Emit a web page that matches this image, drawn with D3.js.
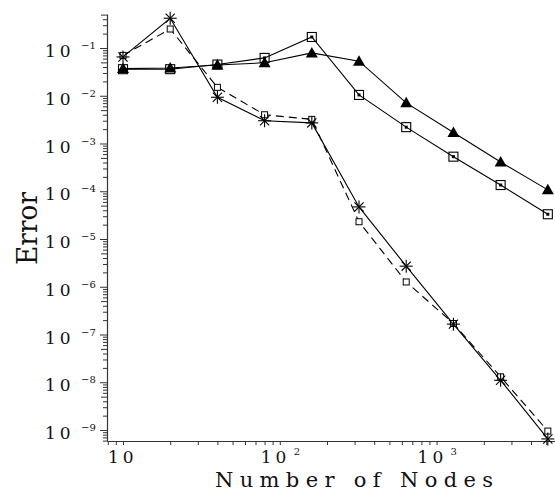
<!DOCTYPE html>
<html><head><meta charset="utf-8">
<script src="https://cdn.jsdelivr.net/npm/d3@7"></script>
<style>body{margin:0;background:#fff}svg{display:block}</style>
</head><body>
<script>
const nodes = [10, 20, 40, 80, 160, 320, 640, 1280, 2560, 5120];
const triangleErr = [0.037, 0.038, 0.044, 0.049, 0.079, 0.053, 0.0071, 0.0017, 4.1e-4, 1.07e-4];
const boxErr = [0.036, 0.036, 0.045, 0.062, 0.17, 0.0104, 0.0022, 5.3e-4, 1.35e-4, 3.3e-5];
const starErr = [0.065, 0.42, 0.0093, 0.0030, 0.0027, 4.7e-5, 2.7e-6, 1.65e-7, 1.1e-8, 6.5e-10];
const smallSqErr = [0.07, 0.25, 0.015, 0.004, 0.0032, 2.3e-5, 1.26e-6, 1.7e-7, 1.3e-8, 9.5e-10];
const yExponents = [-1, -2, -3, -4, -5, -6, -7, -8, -9];
const xMajor = [10, 100, 1000];
const xLabelExp = ["", "2", "3"];

const W = 555, H = 493;
const svg = d3.select("body").append("svg").attr("width", W).attr("height", H);
const x = d3.scaleLog().domain([Math.pow(10, 0.898), Math.pow(10, 3.755)]).range([107, 555]);
const y = d3.scaleLog().domain([Math.pow(10, -9.23), Math.pow(10, -0.288)]).range([441, 14]);
const serif = "DejaVu Serif";
const axisColor = "#333";

const yTicks = [];
for (let e = -10; e <= 0; e++) for (let m = 1; m <= 9; m++) {
  const v = m * Math.pow(10, e);
  if (v >= y.domain()[0] && v <= y.domain()[1]) yTicks.push(v);
}
const xTicks = [];
for (let e = 0; e <= 3; e++) for (let m = 1; m <= 9; m++) {
  const v = m * Math.pow(10, e);
  if (v >= x.domain()[0] && v <= x.domain()[1]) xTicks.push(v);
}
const isMajor = v => Math.abs(Math.log10(v) - Math.round(Math.log10(v))) < 1e-9;

const yAxis = d3.axisLeft(y).tickValues(yTicks).tickFormat("").tickSize(4).tickSizeOuter(0);
const gy = svg.append("g").attr("transform", "translate(107,0)").call(yAxis);
gy.selectAll(".tick line").attr("x2", d => isMajor(d) ? -7 : (Math.abs(d / Math.pow(10, Math.floor(Math.log10(d) + 1e-9)) - 5) < 1e-6 ? -6 : -4));
const xAxis = d3.axisBottom(x).tickValues(xTicks).tickFormat("").tickSize(4).tickSizeOuter(0);
const gx = svg.append("g").attr("transform", "translate(0,441)").call(xAxis);
[gx, gy].forEach(g => {
  g.select(".domain").attr("stroke", axisColor).attr("stroke-width", 1.2);
  g.selectAll(".tick line").attr("stroke", axisColor).attr("stroke-width", 1);
});

yExponents.forEach(k => {
  const ty = y(Math.pow(10, k));
  svg.append("text").attr("x", 45).attr("y", ty + 9).attr("font-family", serif)
    .attr("font-size", 17).attr("letter-spacing", 4).attr("fill", "#111").text("10");
  svg.append("text").attr("x", 81).attr("y", ty + 1).attr("font-family", serif)
    .attr("font-size", 10).attr("fill", "#111").text("\u2212" + Math.abs(k));
});
xMajor.forEach((v, i) => {
  const tx = x(v);
  if (xLabelExp[i] === "") {
    svg.append("text").attr("x", tx - 15).attr("y", 463).attr("font-family", serif)
      .attr("font-size", 17).attr("letter-spacing", 4).attr("fill", "#111").text("10");
  } else {
    svg.append("text").attr("x", tx - 19).attr("y", 463).attr("font-family", serif)
      .attr("font-size", 17).attr("letter-spacing", 4).attr("fill", "#111").text("10");
    svg.append("text").attr("x", tx + 14).attr("y", 455).attr("font-family", serif)
      .attr("font-size", 10).attr("fill", "#111").text(xLabelExp[i]);
  }
});
svg.append("text").attr("x", 215).attr("y", 487).attr("font-family", serif)
  .attr("font-size", 21).attr("textLength", 278).attr("lengthAdjust", "spacing")
  .attr("fill", "#111").text("Number of Nodes");
svg.append("text").attr("transform", "translate(37,265) rotate(-90)")
  .attr("font-family", serif).attr("font-size", 27).attr("textLength", 73)
  .attr("lengthAdjust", "spacingAndGlyphs").attr("fill", "#111").text("Error");

const line = d3.line().x(d => x(d[0])).y(d => y(d[1]));
function series(vals, dash) {
  const pts = nodes.map((n, i) => [n, vals[i]]);
  svg.append("path").datum(pts).attr("d", line).attr("fill", "none")
    .attr("stroke", "#000").attr("stroke-width", 1.1)
    .attr("stroke-dasharray", dash || null);
  return pts;
}
const smallPts = series(smallSqErr, "8,5");
const starPts = series(starErr);
const boxPts = series(boxErr);
const triPts = series(triangleErr);

svg.append("g").selectAll("rect").data(smallPts).join("rect")
  .attr("x", d => x(d[0]) - 3).attr("y", d => y(d[1]) - 3).attr("width", 6).attr("height", 6)
  .attr("fill", "#fff").attr("stroke", "#000").attr("stroke-width", 1);
const sg = svg.append("g").selectAll("g").data(starPts).join("g")
  .attr("transform", d => `translate(${x(d[0])},${y(d[1])})`);
[0, 45, 90, 135].forEach(a => {
  const r = 6.5, rad = a * Math.PI / 180;
  sg.append("line").attr("x1", -r * Math.cos(rad)).attr("y1", -r * Math.sin(rad))
    .attr("x2", r * Math.cos(rad)).attr("y2", r * Math.sin(rad))
    .attr("stroke", "#000").attr("stroke-width", 1.1);
});
const bg = svg.append("g").selectAll("g").data(boxPts).join("g")
  .attr("transform", d => `translate(${x(d[0])},${y(d[1])})`);
bg.append("rect").attr("x", -4.5).attr("y", -4.5).attr("width", 9).attr("height", 9)
  .attr("fill", "none").attr("stroke", "#000").attr("stroke-width", 1.1);
bg.append("rect").attr("x", -1.5).attr("y", -1.5).attr("width", 3).attr("height", 3).attr("fill", "#000");
svg.append("g").selectAll("path").data(triPts).join("path")
  .attr("transform", d => `translate(${x(d[0])},${y(d[1])})`)
  .attr("d", "M0,-6 L6,4.5 L-6,4.5 Z").attr("fill", "#000");
</script>
</body></html>
